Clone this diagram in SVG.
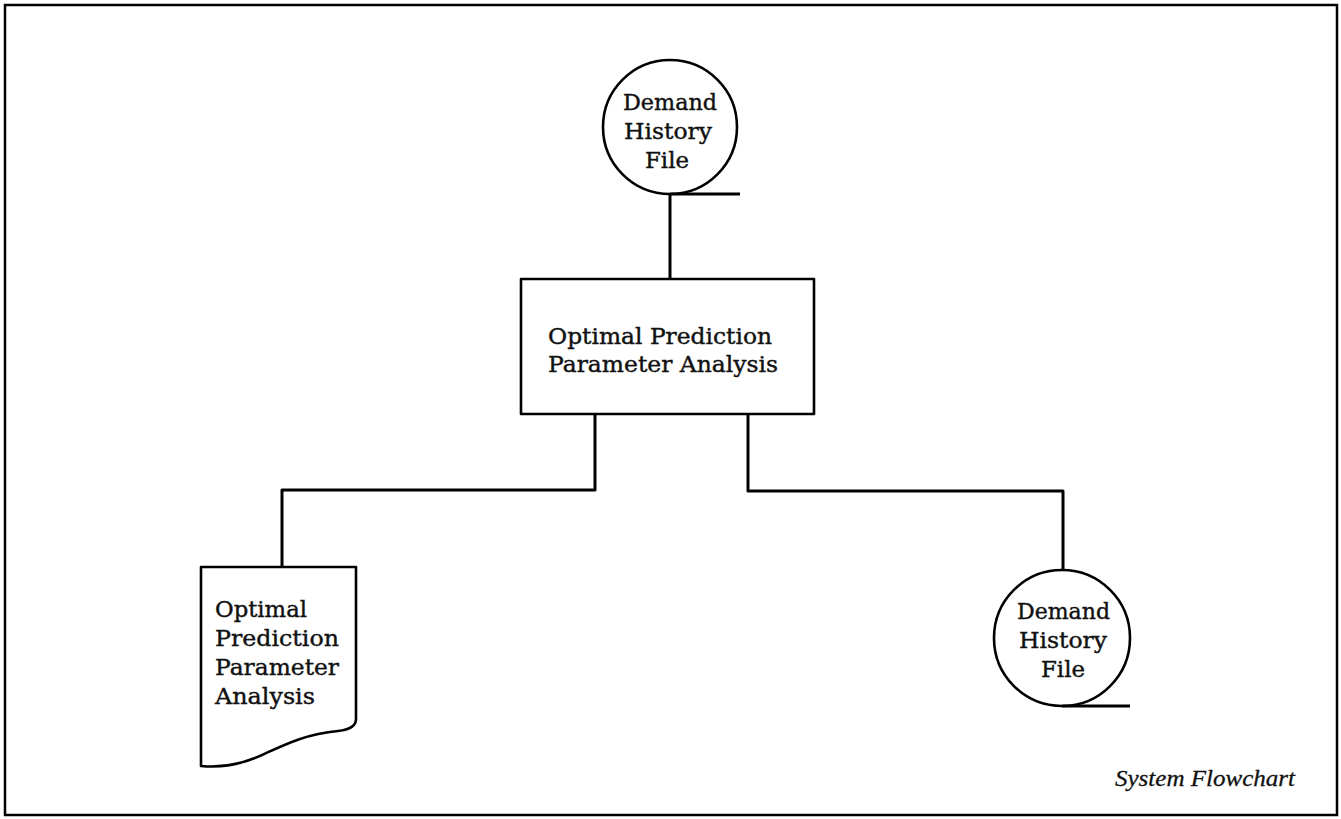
<svg xmlns="http://www.w3.org/2000/svg" width="1341" height="819" viewBox="0 0 1341 819">
  <style>
    .frame { fill: none; stroke: #000; stroke-width: 2.5; }
    .shape { fill: #fff; stroke: #000; stroke-width: 2.6; stroke-linejoin: round; }
    .wire { fill: none; stroke: #000; stroke-width: 3; stroke-linejoin: round; }
    .label { font-family: "DejaVu Serif", "Liberation Serif", serif; font-size: 22px; fill: #111; stroke: #111; stroke-width: 0.4; }
    .caption { font-family: "Liberation Serif", "Times New Roman", serif; font-style: italic; font-size: 24px; fill: #111; stroke: #111; stroke-width: 0.3; }
  </style>

  <rect width="1341" height="819" fill="#fff"/>
  <rect class="frame" x="5" y="5" width="1332" height="810"/>

  <!-- connectors -->
  <g id="connectors">
    <path class="wire" d="M670,194 V279"/>
    <path class="wire" d="M595,414 V490 H282 V567"/>
    <path class="wire" d="M748,414 V491 H1063 V570"/>
  </g>

  <!-- input tape file -->
  <g id="demand-history-in">
    <circle class="shape" cx="670" cy="127" r="67"/>
    <path class="wire" d="M670,194 H740"/>
    <text class="label" x="623" y="110" textLength="94" lengthAdjust="spacingAndGlyphs">Demand</text>
    <text class="label" x="624" y="139" textLength="88" lengthAdjust="spacingAndGlyphs">History</text>
    <text class="label" x="645" y="168" textLength="44" lengthAdjust="spacingAndGlyphs">File</text>
  </g>

  <!-- process -->
  <g id="analysis-process">
    <rect class="shape" x="521" y="279" width="293" height="135"/>
    <text class="label" x="548" y="344" textLength="224" lengthAdjust="spacingAndGlyphs">Optimal Prediction</text>
    <text class="label" x="548" y="372" textLength="230" lengthAdjust="spacingAndGlyphs">Parameter Analysis</text>
  </g>

  <!-- printed report -->
  <g id="analysis-report">
    <path class="shape" d="M201,567 H356 V719 Q356,729 338,731 C306,734 286,744 262,755 C240,765 220,768 201,766 Z"/>
    <text class="label" x="215" y="617" textLength="92" lengthAdjust="spacingAndGlyphs">Optimal</text>
    <text class="label" x="215" y="646" textLength="124" lengthAdjust="spacingAndGlyphs">Prediction</text>
    <text class="label" x="215" y="675" textLength="124" lengthAdjust="spacingAndGlyphs">Parameter</text>
    <text class="label" x="215" y="704" textLength="100" lengthAdjust="spacingAndGlyphs">Analysis</text>
  </g>

  <!-- output tape file -->
  <g id="demand-history-out">
    <circle class="shape" cx="1062" cy="638" r="68"/>
    <path class="wire" d="M1062,706 H1130"/>
    <text class="label" x="1017" y="619" textLength="93" lengthAdjust="spacingAndGlyphs">Demand</text>
    <text class="label" x="1019" y="648" textLength="88" lengthAdjust="spacingAndGlyphs">History</text>
    <text class="label" x="1041" y="677" textLength="44" lengthAdjust="spacingAndGlyphs">File</text>
  </g>

  <text class="caption" x="1115" y="786" textLength="180" lengthAdjust="spacingAndGlyphs">System Flowchart</text>
</svg>
